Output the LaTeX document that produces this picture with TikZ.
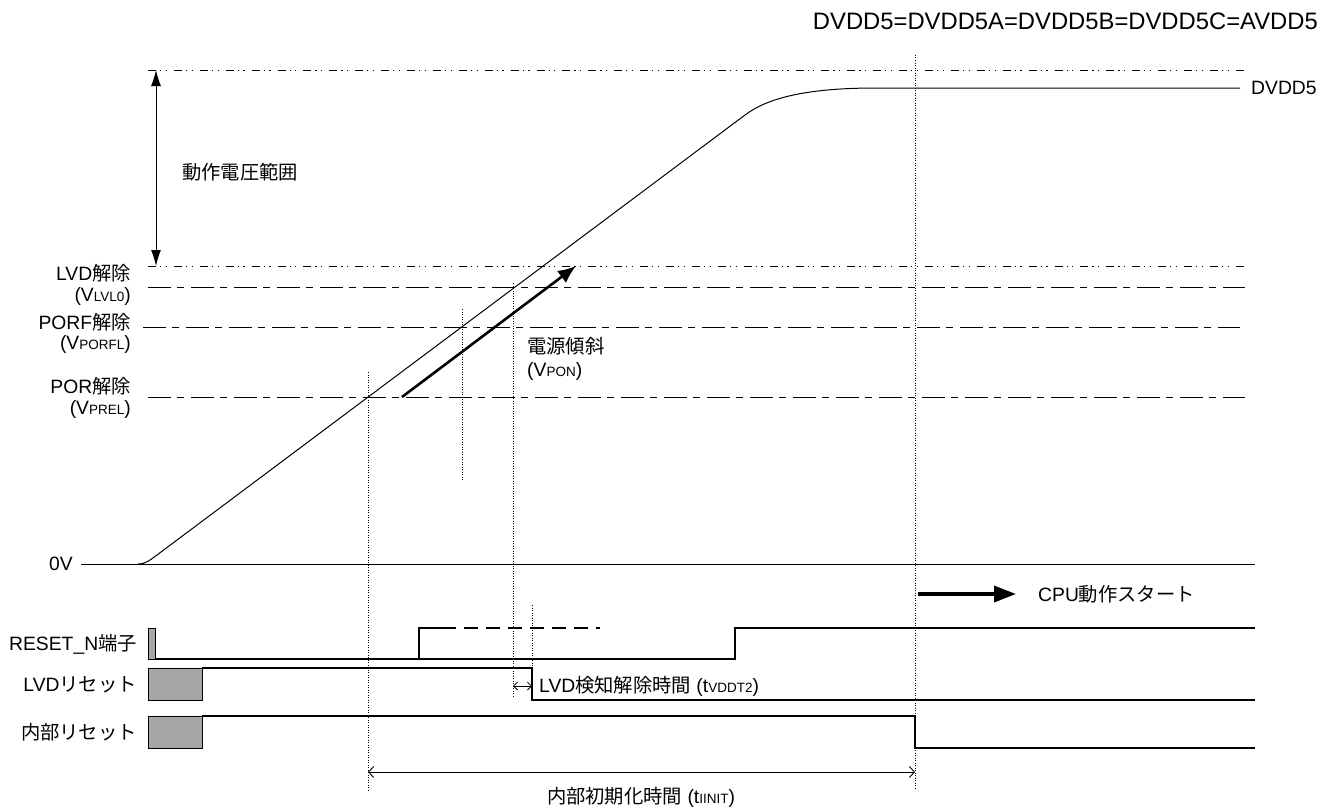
\documentclass[tikz,border=0pt]{standalone}
\usepackage{fontspec}
\setmainfont{Liberation Sans}
\newfontfamily\jp{Noto Sans CJK JP}
\usetikzlibrary{arrows.meta}
\definecolor{boxgray}{HTML}{A6A6A6}
\newcommand{\sbs}[1]{{\fontsize{13.5}{13.5}\selectfont #1}}
\begin{document}
\begin{tikzpicture}[x=1pt,y=-1pt,
  font=\fontsize{19.3}{22}\selectfont,
  lbl/.style={inner sep=0pt, text=black},
  ddot/.style={line width=0.9pt, dash pattern=on 8pt off 4pt on 1.2pt off 4.5pt on 1.2pt off 7pt},
  ldash/.style={line width=1pt, dash pattern=on 23pt off 6pt on 7pt off 7pt},
  vdot/.style={line width=0.8pt, dash pattern=on 1pt off 1.5pt},
  sig/.style={line width=1.2pt},
  gbox/.style={draw, line width=1pt, fill=boxgray},
  thinarr/.style={line width=0.9pt, {Straight Barb[length=5pt,width=11pt]}-{Straight Barb[length=5pt,width=11pt]}}
]
\useasboundingbox (0,0) rectangle (1321,808);

% title
\node[lbl, anchor=east, font=\fontsize{23.8}{26}\selectfont] (title) at (1318,21) {DVDD5=DVDD5A=DVDD5B=DVDD5C=AVDD5};

% horizontal reference lines
\draw[ddot] (148,70) -- (1245,70);
\draw[ddot] (148,266) -- (1245,266);
\draw[ldash] (148,287) -- (1245,287);
\draw[ldash] (143,327) -- (1240,327);
\draw[ldash] (148,397) -- (1245,397);

% operating range arrow
\coordinate (opT) at (156,70);
\coordinate (opB) at (156,266);
\draw[line width=1pt, {Latex[length=16pt,width=10pt]}-{Latex[length=16pt,width=10pt]}] (opT) -- (opB);
\node[lbl, anchor=west] (oprange) at (182,172) {\jp 動作電圧範囲};

% left labels
\node[lbl, anchor=east] (lvdrel) at (131,273) {LVD{\jp 解除}};
\node[lbl, anchor=east] (vlvl) at (131,297) {(V\sbs{LVL0})};
\node[lbl, anchor=east] (porfrel) at (131,322) {PORF{\jp 解除}};
\node[lbl, anchor=east] (vporfl) at (131,345) {(V\sbs{PORFL})};
\node[lbl, anchor=east] (porrel) at (131,386) {POR{\jp 解除}};
\node[lbl, anchor=east] (vprel) at (131,409) {(V\sbs{PREL})};

% 0V line
\node[lbl, anchor=east] (zero) at (73,564) {0V};
\draw[line width=1pt] (81,564) -- (1255,564);

% supply curve
\draw[line width=1pt] (138,564) .. controls (146,564) and (150,560) .. (157,555)
  -- (745,115) .. controls (765,100) and (800,88) .. (876,88) -- (1240,88);
\node[lbl, anchor=west] (dvdd) at (1251,88) {DVDD5};

% slope arrow
\coordinate (ponS) at (402,397);
\coordinate (ponE) at (576,266);
\draw[line width=2.6pt, -{Latex[length=18pt,width=15pt]}] (ponS) -- (ponE);
\node[lbl, anchor=west] (slope) at (527,346) {\jp 電源傾斜};
\node[lbl, anchor=west] (vpon) at (527,372) {(V\sbs{PON})};

% dotted verticals
\draw[vdot] (368,372) -- (368,790);
\draw[vdot] (462,309) -- (462,480);
\draw[vdot] (513,283) -- (513,698);
\draw[vdot] (532,605) -- (532,700);
\draw[vdot] (915,55) -- (915,790);

% CPU start arrow
\coordinate (cpuS) at (918,594);
\coordinate (cpuE) at (1016,594);
\draw[line width=3.5pt, -{Triangle[length=22pt,width=16pt]}] (cpuS) -- (cpuE);
\node[lbl, anchor=west] (cpu) at (1038,594) {CPU{\jp 動作スタート}};

% RESET_N
\node[lbl, anchor=east] (rstlbl) at (137,644) {RESET\_N{\jp 端子}};
\draw[gbox] (148,628) rectangle (155,659);
\draw[sig] (155,659) -- (735,659) -- (735,628) -- (1255,628);
\draw[sig] (419,659) -- (419,628) -- (442,628);
\draw[sig, dash pattern=on 14pt off 8pt] (442,628) -- (600,628);

% LVD reset
\node[lbl, anchor=east] (lvdlbl) at (137,685) {LVD{\jp リセット}};
\draw[gbox] (148,668) rectangle (202,700);
\draw[sig] (202,668) -- (532,668) -- (532,700) -- (1255,700);
\coordinate (lvdA) at (513,686);
\coordinate (lvdB) at (532,686);
\draw[line width=0.8pt, {Straight Barb[length=4pt,width=8pt]}-{Straight Barb[length=4pt,width=8pt]}] (lvdA) -- (lvdB);
\node[lbl, anchor=west] (lvdt) at (539,686) {LVD{\jp 検知解除時間} (t\sbs{VDDT2})};

% internal reset
\node[lbl, anchor=east] (intlbl) at (137,732) {\jp 内部リセット};
\draw[gbox] (148,716) rectangle (202,748);
\draw[sig] (202,716) -- (915,716) -- (915,748) -- (1255,748);

% init time arrow
\coordinate (initA) at (368,772);
\coordinate (initB) at (915,772);
\draw[thinarr] (initA) -- (initB);
\node[lbl] (initlbl) at (641,797) {{\jp 内部初期化時間} (t\sbs{IINIT})};

\end{tikzpicture}
\end{document}
